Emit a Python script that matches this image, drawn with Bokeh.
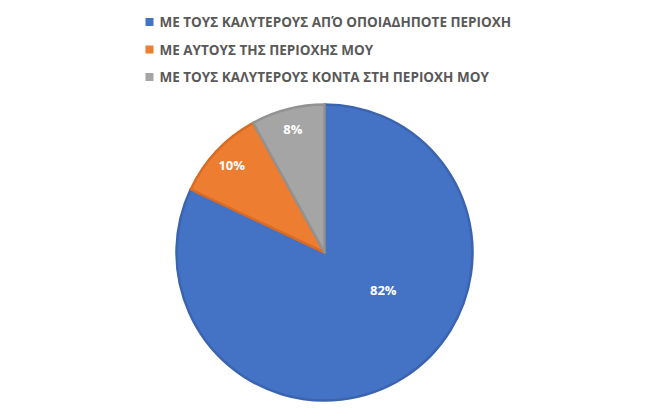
import numpy as np
from bokeh.plotting import figure
from bokeh.models import Range1d
from bokeh.core.properties import value
from bokeh.embed import file_html
from bokeh.resources import INLINE

# Data
categories = [
    "ΜΕ ΤΟΥΣ ΚΑΛΥΤΕΡΟΥΣ ΑΠΌ ΟΠΟΙΑΔΗΠΟΤΕ ΠΕΡΙΟΧΗ",
    "ΜΕ ΑΥΤΟΥΣ ΤΗΣ ΠΕΡΙΟΧΗΣ ΜΟΥ",
    "ΜΕ ΤΟΥΣ ΚΑΛΥΤΕΡΟΥΣ ΚΟΝΤΑ ΣΤΗ ΠΕΡΙΟΧΗ ΜΟΥ",
]
shares = [82, 10, 8]

# Styles
colors = ["#4472C4", "#ED7D31", "#A5A5A5"]
edge_colors = ["#3A64B0", "#D86C24", "#929292"]
W, H = 635, 403
cx, cy, R = 324, 151, 148

p = figure(width=W, height=H, output_backend="svg", toolbar_location=None,
           x_range=Range1d(0, W), y_range=Range1d(0, H), min_border=0)
p.axis.visible = False
p.grid.visible = False
p.outline_line_color = None
p.background_fill_color = "white"
p.border_fill_color = "white"

vals = np.array(shares, dtype=float)
frac = vals / vals.sum()
cum_end = np.cumsum(frac)
cum_start = cum_end - frac
start_angles = np.pi / 2 - cum_end * 2 * np.pi
end_angles = np.pi / 2 - cum_start * 2 * np.pi

for i in range(len(shares)):
    p.wedge(x=cx, y=cy, radius=R, radius_units="screen",
            start_angle=start_angles[i], end_angle=end_angles[i],
            fill_color=colors[i], line_color=edge_colors[i], line_width=2.5,
            line_join="round")

# Data labels
mid = (cum_start + cum_end) / 2
rfac = np.where(frac > 0.5, 0.47, 0.86)
ang = np.pi / 2 - mid * 2 * np.pi
# large slice: label shifted toward the right half like Excel best fit
ang = np.where(frac > 0.5, np.pi / 2 - 0.34 * 2 * np.pi, ang)
lx = cx + rfac * R * np.cos(ang)
ly = cy + rfac * R * np.sin(ang)
p.text(x=lx, y=ly, text=[f"{v}%" for v in shares], text_align="center",
       text_baseline="middle", text_color="white", text_font=value("Open Sans"),
       text_font_style="bold", text_font_size="13px")

# Legend
ys = [381.5, 354, 326.5]
p.scatter(x=[149] * 3, y=ys, marker="square", size=8, fill_color=colors,
          line_color=None)
p.text(x=[159] * 3, y=ys, text=categories, text_align="left",
       text_baseline="middle", text_color="#595959", text_font=value("Open Sans"),
       text_font_style="bold", text_font_size="13.5px")

open("out.html", "w").write(file_html(p, INLINE))
